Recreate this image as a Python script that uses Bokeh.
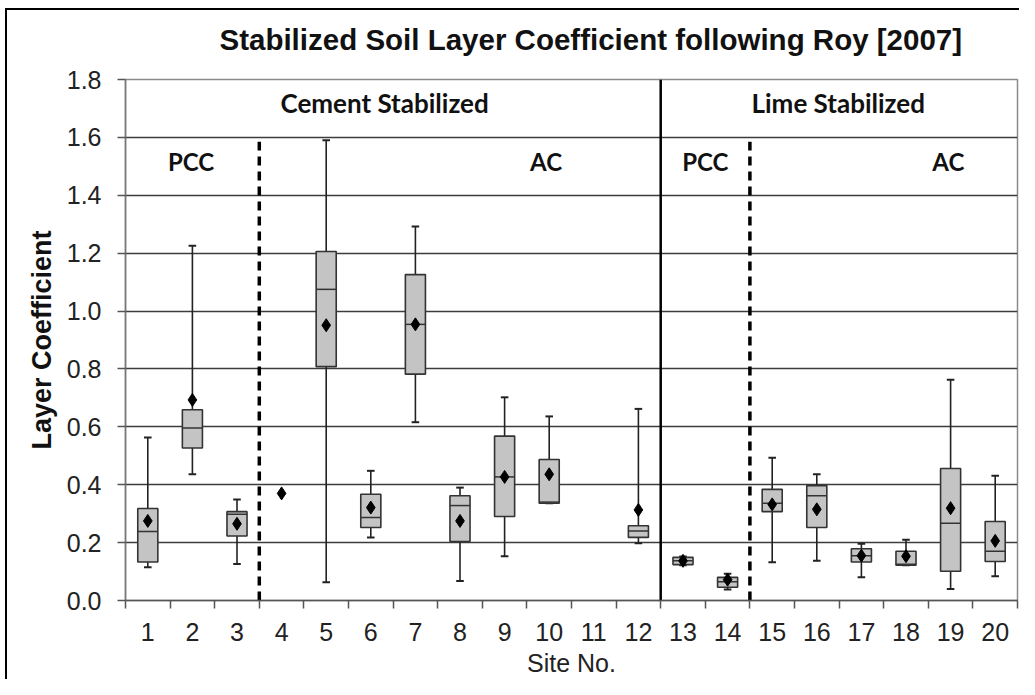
import numpy as np
from bokeh.plotting import figure
from bokeh.models import (ColumnDataSource, FixedTicker, PrintfTickFormatter, Label, Title)
from bokeh.embed import file_html
from bokeh.resources import INLINE

# ---------------- data ----------------
sites = list(range(1, 21))
site_labels = [str(s) for s in sites]
whisker_high = [0.563, 1.226, 0.349, None, 1.590, 0.448, 1.292, 0.390, 0.702, 0.636,
                None, 0.662, 0.152, 0.092, 0.493, 0.436, 0.196, 0.210, 0.763, 0.431]
q3 = [0.318, 0.659, 0.307, None, 1.206, 0.367, 1.126, 0.362, 0.568, 0.487,
      None, 0.258, 0.149, 0.080, 0.384, 0.397, 0.179, 0.170, 0.456, 0.273]
median = [0.238, 0.596, 0.298, None, 1.075, 0.287, 0.954, 0.328, 0.427, 0.340,
          None, 0.240, 0.137, 0.065, 0.336, 0.362, 0.155, 0.125, 0.267, 0.170]
q1 = [0.133, 0.527, 0.223, None, 0.808, 0.252, 0.782, 0.204, 0.290, 0.336,
      None, 0.218, 0.124, 0.046, 0.307, 0.252, 0.133, 0.122, 0.101, 0.135]
whisker_low = [0.115, 0.436, 0.126, None, 0.063, 0.218, 0.616, 0.067, 0.153, 0.336,
               None, 0.198, 0.122, 0.038, 0.132, 0.137, 0.080, 0.122, 0.040, 0.084]
mean = [0.275, 0.693, 0.265, 0.370, 0.951, 0.321, 0.954, 0.275, 0.427, 0.436,
        None, 0.313, 0.137, 0.072, 0.332, 0.315, 0.155, 0.153, 0.319, 0.206]

y_ticks = [0.0, 0.2, 0.4, 0.6, 0.8, 1.0, 1.2, 1.4, 1.6, 1.8]
group_boundary = [12.5]            # cement | lime
pavement_boundaries = [3.5, 14.5]  # PCC | AC
group_labels = ["Cement Stabilized", "Lime Stabilized"]
pavement_labels = ["PCC", "AC", "PCC", "AC"]

title_text = "Stabilized Soil Layer Coefficient following Roy [2007]"
x_title = "Site No."
y_title = "Layer Coefficient"

# ---------------- build ----------------
rows = [i for i in range(len(sites)) if q1[i] is not None]
box = ColumnDataSource(dict(
    x=[sites[i] for i in rows],
    q1=[q1[i] for i in rows], q3=[q3[i] for i in rows],
    med=[median[i] for i in rows],
    lo=[whisker_low[i] for i in rows], hi=[whisker_high[i] for i in rows],
))
mrows = [i for i in range(len(sites)) if mean[i] is not None]
means = ColumnDataSource(dict(x=[sites[i] for i in mrows], y=[mean[i] for i in mrows]))

p = figure(width=1019, height=679, x_range=(0.5, 20.5), y_range=(0, 1.8),
           output_backend="svg", toolbar_location=None,
           min_border_left=125, min_border_right=2, min_border_top=79, min_border_bottom=10)
p.border_fill_color = None
p.styles = {"background": ("linear-gradient(#000,#000) 5px 8px / 2px calc(100% - 8px) no-repeat, "
                           "linear-gradient(#000,#000) 5px 8px / calc(100% - 5px) 2px no-repeat, "
                           "#ffffff")}

p.outline_line_color = "#8a8a8a"
p.outline_line_width = 1.5

# axes
p.xaxis.ticker = FixedTicker(ticks=sites, minor_ticks=[s - 0.5 for s in sites] + [20.5])
p.xaxis.major_label_overrides = {s: l for s, l in zip(sites, site_labels)}
p.xaxis.major_tick_line_color = None
p.xaxis.major_tick_out = 8
p.xaxis.major_tick_in = 0
p.xaxis.minor_tick_out = 8
p.xaxis.minor_tick_in = 0
p.xaxis.minor_tick_line_color = "#555555"
p.xaxis.minor_tick_line_width = 1.5
p.xaxis.axis_line_color = "#555555"
p.xaxis.axis_line_width = 1.5

p.yaxis.ticker = FixedTicker(ticks=y_ticks)
p.yaxis.formatter = PrintfTickFormatter(format="%.1f")
p.yaxis.major_tick_out = 8
p.yaxis.major_tick_in = 0
p.yaxis.minor_tick_line_color = None
p.yaxis.major_tick_line_color = "#555555"
p.yaxis.major_tick_line_width = 1.5
p.yaxis.axis_line_color = "#777777"
p.yaxis.axis_line_width = 1.5

for ax in (p.xaxis, p.yaxis):
    ax.major_label_text_font = "Liberation Sans"
    ax.major_label_text_font_size = "25px"
    ax.major_label_text_color = "#222222"
p.xaxis.major_label_standoff = 14
p.yaxis.major_label_standoff = 16

p.xaxis.axis_label = x_title
p.xaxis.axis_label_text_font = "Liberation Sans"
p.xaxis.axis_label_text_font_style = "normal"
p.xaxis.axis_label_text_font_size = "25px"
p.xaxis.axis_label_text_color = "#222222"
p.xaxis.axis_label_standoff = 5

p.yaxis.axis_label = y_title
p.yaxis.axis_label_text_font = "Liberation Sans"
p.yaxis.axis_label_text_font_style = "bold"
p.yaxis.axis_label_text_font_size = "27px"
p.yaxis.axis_label_text_color = "#111111"
p.yaxis.axis_label_standoff = 7

p.xgrid.grid_line_color = None
p.ygrid.ticker = FixedTicker(ticks=y_ticks)
p.ygrid.grid_line_color = "#3c3c3c"
p.ygrid.grid_line_width = 1.5

# title (top of the figure)
p.add_layout(Title(text=title_text, align="left", offset=90, standoff=35,
                   vertical_align="top", padding=4,
                   text_font="Liberation Sans", text_font_style="bold",
                   text_font_size="29.5px", text_color="#111111"), "above")

# group separators
for xb in group_boundary:
    p.segment(x0=[xb], y0=[0], x1=[xb], y1=[1.8], line_color="black", line_width=2.5)
for xb in pavement_boundaries:
    p.segment(x0=[xb], y0=[0], x1=[xb], y1=[1.585], line_color="black", line_width=3.5,
              line_dash="9 6")

# whiskers
p.segment(x0="x", y0="q3", x1="x", y1="hi", source=box, line_color="#222222", line_width=1.6)
p.segment(x0="x", y0="lo", x1="x", y1="q1", source=box, line_color="#222222", line_width=1.6)
p.rect(x="x", y="hi", width=0.17, height=2, height_units="screen", source=box,
       fill_color="#222222", line_color=None)
p.rect(x="x", y="lo", width=0.17, height=2, height_units="screen", source=box,
       fill_color="#222222", line_color=None)

# boxes
p.vbar(x="x", bottom="q1", top="q3", width=0.45, source=box,
       fill_color="#c4c4c4", line_color="#333333", line_width=1.6)
p.rect(x="x", y="med", width=0.45, height=1.5, height_units="screen", source=box,
       fill_color="#333333", line_color=None)

# means
p.scatter(x="x", y="y", source=means, marker="diamond", size=13,
          fill_color="black", line_color="black")

# in-plot labels
for txt, xx in zip(group_labels, [6.31, 16.48]):
    p.add_layout(Label(x=xx, y=1.72, text=txt, text_align="center", text_baseline="middle",
                       text_font="Lato", text_font_style="bold", text_font_size="26px",
                       text_color="#111111"))
for txt, xx in zip(pavement_labels, [1.97, 9.93, 13.5, 18.95]):
    p.add_layout(Label(x=xx, y=1.515, text=txt, text_align="center", text_baseline="middle",
                       text_font="Lato", text_font_style="bold", text_font_size="24px",
                       text_color="#111111"))

open("out.html", "w").write(file_html(p, INLINE))
